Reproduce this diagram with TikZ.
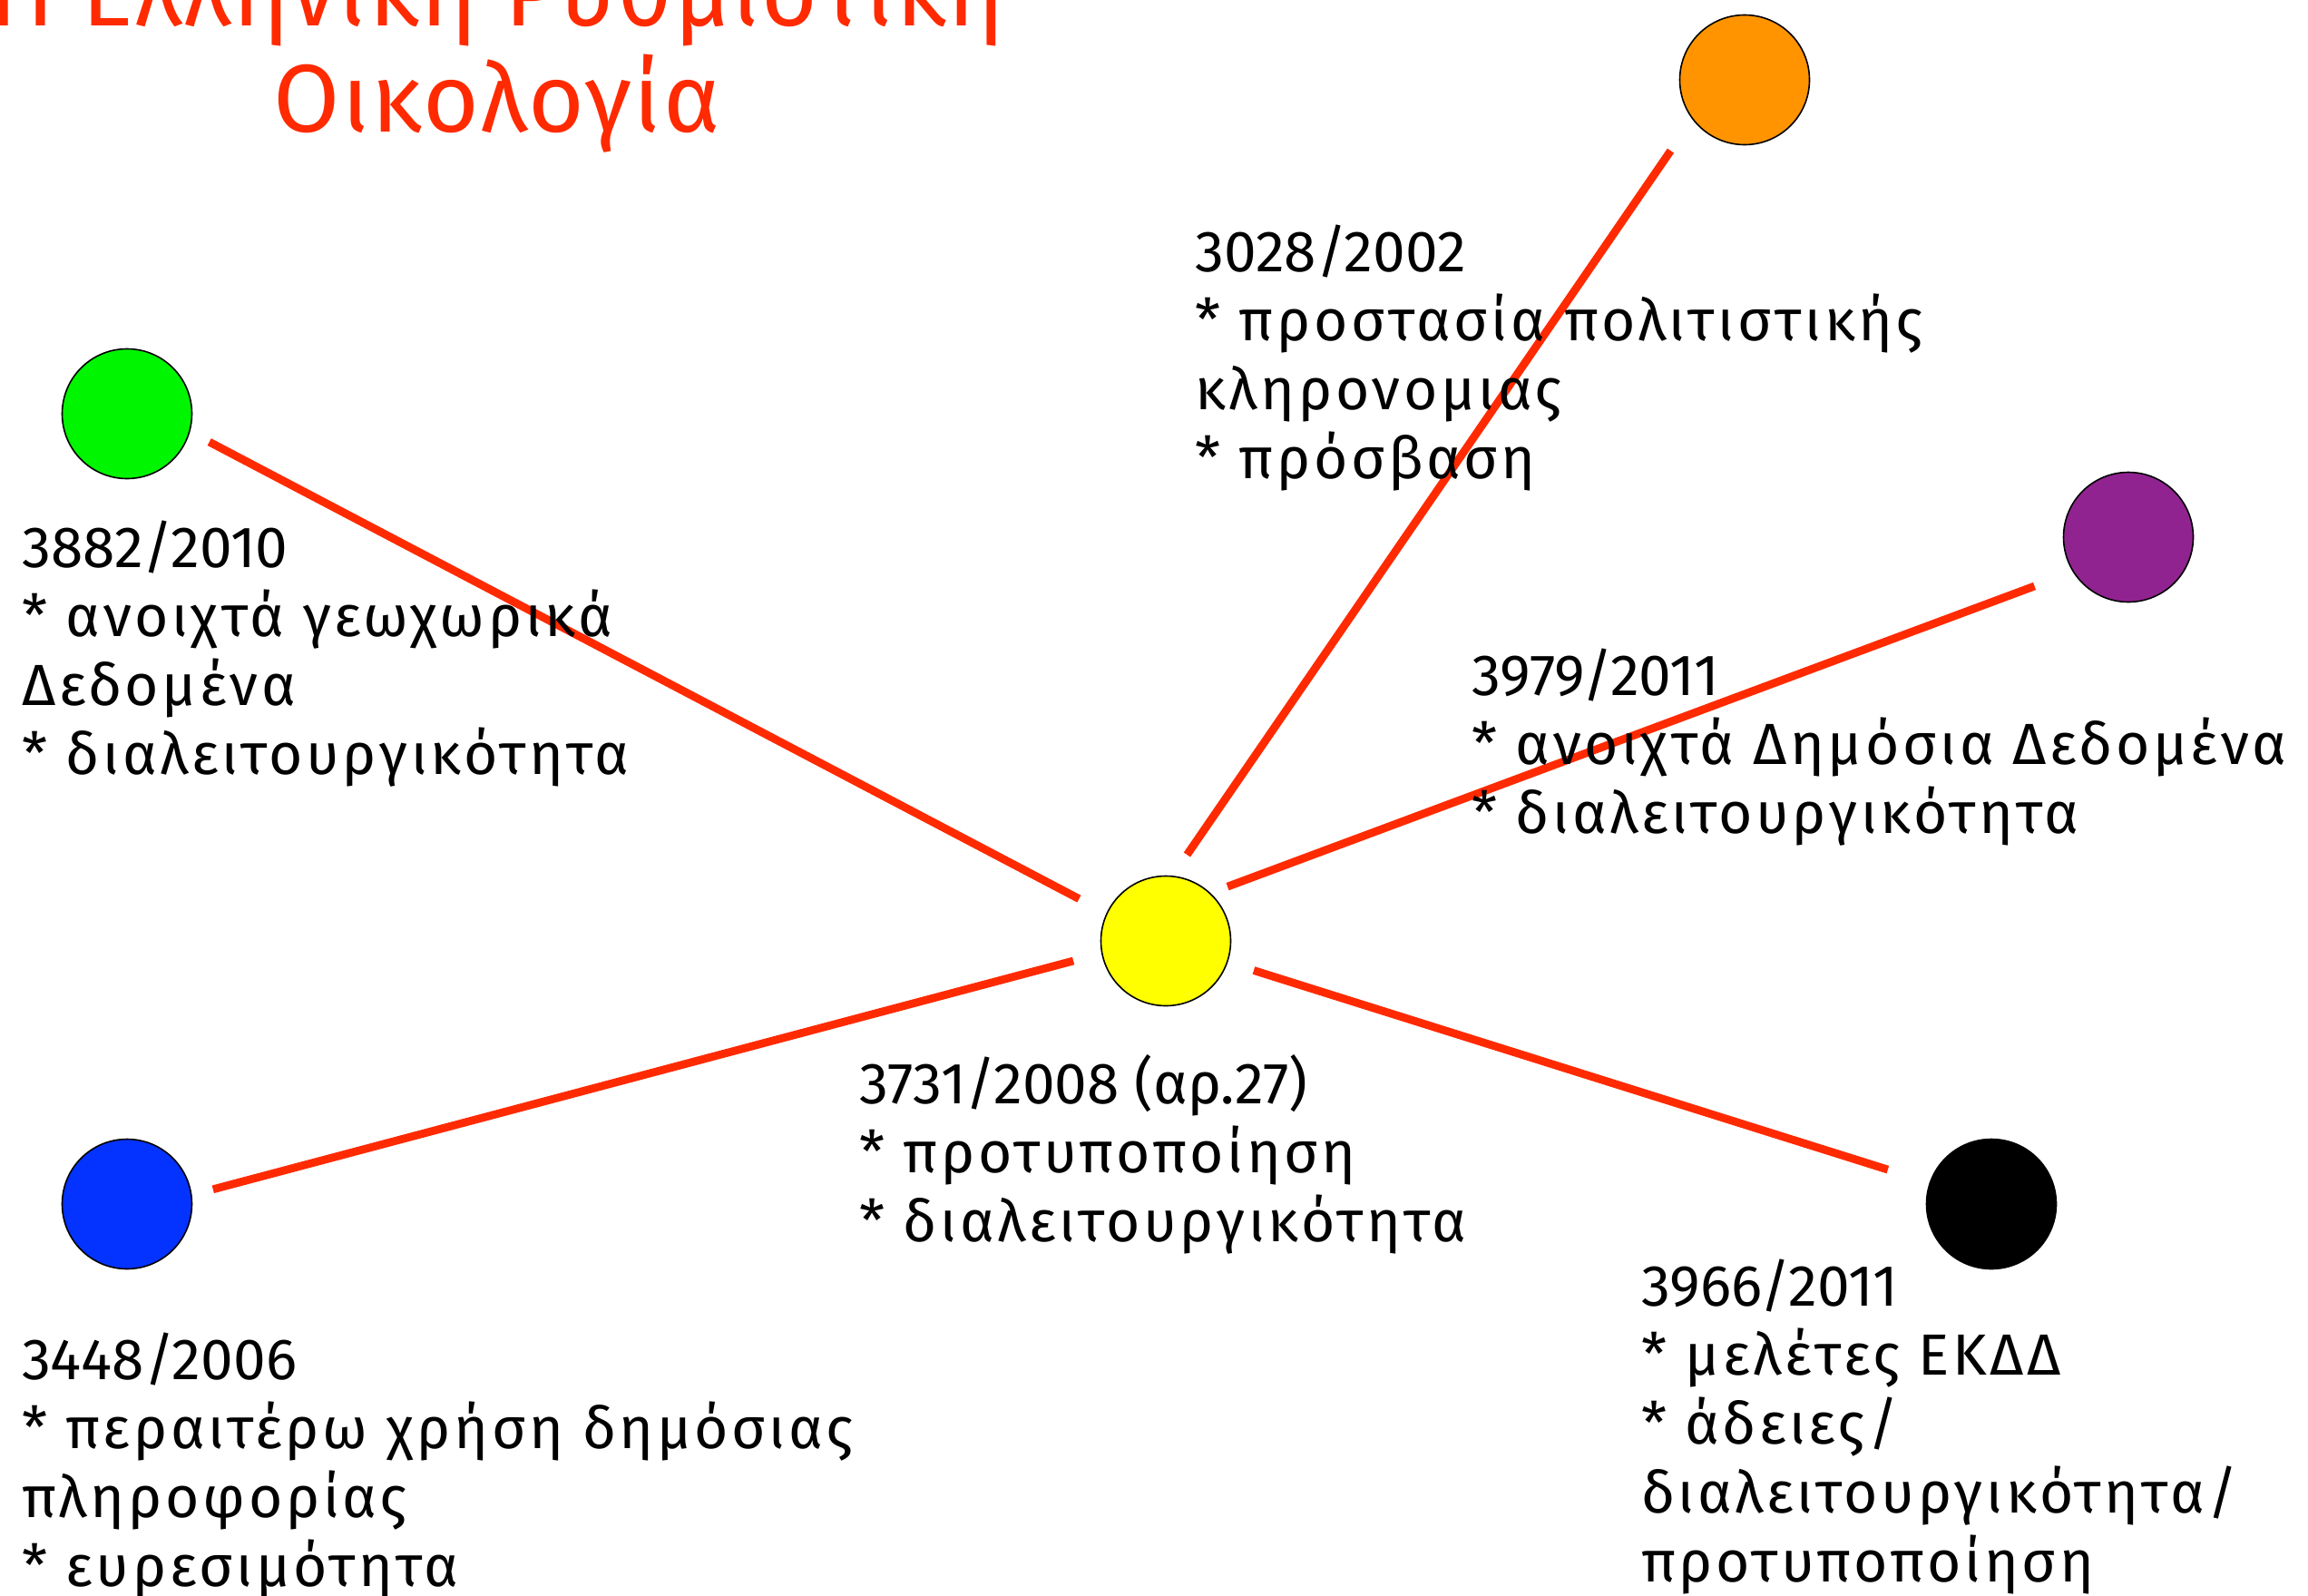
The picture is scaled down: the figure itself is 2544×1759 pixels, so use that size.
\documentclass[tikz,border=0pt]{standalone}
\usepackage{fontspec}
\setmainfont{Fira Sans}
\newfontfamily\grk[LetterSpace=5.7]{Fira Sans}
\newfontfamily\numf{Fira Sans}
\newfontfamily\ttlf[LetterSpace=2]{Fira Sans}
\definecolor{linkred}{HTML}{FF2A00}
\definecolor{cOrange}{HTML}{FF9400}
\definecolor{cGreen}{HTML}{00F500}
\definecolor{cPurple}{HTML}{912391}
\definecolor{cYellow}{HTML}{FFFF00}
\definecolor{cBlue}{HTML}{0433FF}
\begin{document}
\begin{tikzpicture}[x=1pt,y=-1pt,
  dot/.style={circle, draw=black, line width=1.6pt, minimum size=143pt, inner sep=0pt},
  link/.style={draw=linkred, line width=8.8pt},
  lbl/.style={font=\fontsize{64}{76}\selectfont\grk, align=left, inner sep=0pt, anchor=base west},
  ttl/.style={font=\fontsize{106}{117}\selectfont\ttlf, text=linkred, align=center, inner sep=0pt, anchor=base}]
\useasboundingbox (0,0) rectangle (2544,1759);
\fill[white] (0,0) rectangle (2544,1759);

\node[ttl] (title) at (548,145) {Η Ελληνική Ρυθμιστική\\Οικολογία};

\node[dot, fill=cOrange] (orange) at (1923,88) {};
\node[dot, fill=cGreen]  (green)  at (140,456) {};
\node[dot, fill=cPurple] (purple) at (2346,592) {};
\node[dot, fill=cYellow] (yellow) at (1285,1037) {};
\node[dot, fill=cBlue]   (blue)   at (140,1327) {};
\node[dot, fill=black]   (black)  at (2195,1327) {};

\draw[link, shorten <=24pt, shorten >=34pt] (green.-16) -- (yellow.155);
\draw[link, shorten <=42pt, shorten >=28pt] (orange.217) -- (yellow.84);
\draw[link, shorten <=45pt, shorten >=20pt] (purple.212) -- (yellow.47);
\draw[link, shorten <=24pt, shorten >=32pt] (blue.8) -- (yellow.191);
\draw[link, shorten <=48pt, shorten >=30pt] (black.161) -- (yellow.-19.5);

\node[lbl] (t3028) at (1317,527) {{\numf 3028/2002}\\* προστασία πολιτιστικής\\κληρονομιας\\* πρόσβαση};
\node[lbl] (t3882) at (24,853) {{\numf 3882/2010}\\* ανοιχτά γεωχωρικά\\Δεδομένα\\* διαλειτουργικότητα};
\node[lbl] (t3979) at (1622,918) {{\numf 3979/2011}\\* ανοιχτά Δημόσια Δεδομένα\\* διαλειτουργικότητα};
\node[lbl] (t3731) at (947,1368) {{\numf 3731/2008 (αρ.27)}\\* προτυποποίηση\\* διαλειτουργικότητα};
\node[lbl] (t3448) at (24,1748) {{\numf 3448/2006}\\* περαιτέρω χρήση δημόσιας\\πληροφορίας\\* ευρεσιμότητα};
\node[lbl] (t3966) at (1809,1743) {{\numf 3966/2011}\\* μελέτες ΕΚΔΔ\\* άδειες/\\διαλειτουργικότητα/\\προτυποποίηση};
\end{tikzpicture}
\end{document}
